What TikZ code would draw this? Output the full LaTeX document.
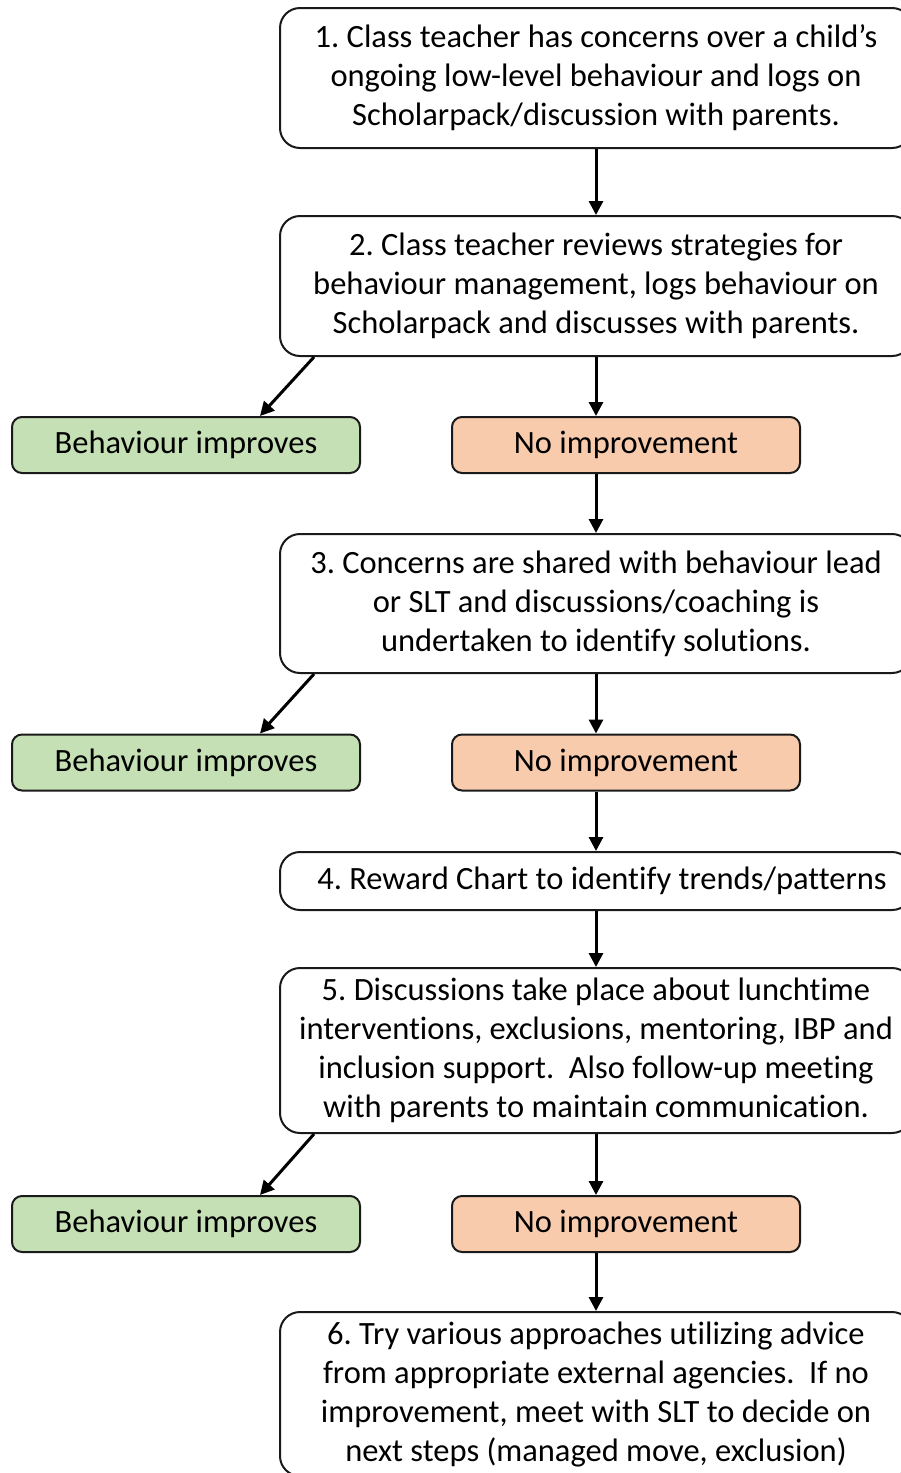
\documentclass[tikz,border=0pt]{standalone}
\usepackage{fontspec}
\setmainfont{Carlito}[Ligatures=NoCommon]
\usetikzlibrary{arrows.meta,calc}
\definecolor{gfill}{HTML}{C5E0B4}
\definecolor{ofill}{HTML}{F8CBAD}
\definecolor{edge}{HTML}{1A1A1A}
\begin{document}
\frenchspacing
\begin{tikzpicture}[x=1pt,y=-1pt,
  every node/.style={font=\fontsize{32.5}{39}\selectfont, inner sep=0pt, align=center},
  wbox/.style={draw=edge, line width=2pt, rounded corners=20pt, fill=white, minimum width=632pt},
  gbox/.style={draw=edge, line width=2pt, rounded corners=10pt, fill=gfill, minimum width=348pt, minimum height=56pt},
  obox/.style={draw=edge, line width=2pt, rounded corners=10pt, fill=ofill, minimum width=348pt, minimum height=56pt},
  arr/.style={line width=3pt, -{Triangle[length=14pt,width=14pt]}}]
\clip (0,0) rectangle (901,1473);
\fill[white] (0,0) rectangle (901,1473);
% boxes
\node[wbox, minimum height=140pt] (b1) at (596,78) {1. Class teacher has concerns over a child’s\\ongoing low-level behaviour and logs on\\Scholarpack/discussion with parents.};
\node[wbox, minimum height=140pt] (b2) at (596,286) {2. Class teacher reviews strategies for\\behaviour management, logs behaviour on\\Scholarpack and discusses with parents.};
\node[gbox] (g1) at (186,445) {Behaviour improves};
\node[obox] (o1) at (626,445) {No improvement};
\node[wbox, minimum height=139pt] (b3) at (596,603.5) {3. Concerns are shared with behaviour lead\\or SLT and discussions/coaching is\\undertaken to identify solutions.};
\node[gbox] (g2) at (186,762.5) {Behaviour improves};
\node[obox] (o2) at (626,762.5) {No improvement};
\node[wbox, minimum height=58pt] (b4) at (596,881) {\hspace*{12pt}4. Reward Chart to identify trends/patterns};
\node[wbox, minimum height=165pt] (b5) at (596,1050.5) {5. Discussions take place about lunchtime\\interventions, exclusions, mentoring, IBP and\\inclusion support.\ \ Also follow-up meeting\\with parents to maintain communication.};
\node[gbox] (g3) at (186,1224) {Behaviour improves};
\node[obox] (o3) at (626,1224) {No improvement};
\node[wbox, minimum height=164pt] (b6) at (596,1394) {6. Try various approaches utilizing advice\\from appropriate external agencies.\ \ If no\\improvement, meet with SLT to decide on\\next steps (managed move, exclusion)};
% connectors
\draw[arr] (b1.south) -- (b2.north);
\draw[arr] ([xshift=35pt]b2.south west) -- ([xshift=74pt]g1.north);
\draw[arr] (b2.south) -- (b2.south |- o1.north);
\draw[arr] (b2.south |- o1.south) -- (b3.north);
\draw[arr] ([xshift=35pt]b3.south west) -- ([xshift=74pt]g2.north);
\draw[arr] (b3.south) -- (b3.south |- o2.north);
\draw[arr] (b3.south |- o2.south) -- (b4.north);
\draw[arr] (b4.south) -- (b5.north);
\draw[arr] ([xshift=35pt]b5.south west) -- ([xshift=74pt]g3.north);
\draw[arr] (b5.south) -- (b5.south |- o3.north);
\draw[arr] (b5.south |- o3.south) -- (b6.north);
\end{tikzpicture}
\end{document}
